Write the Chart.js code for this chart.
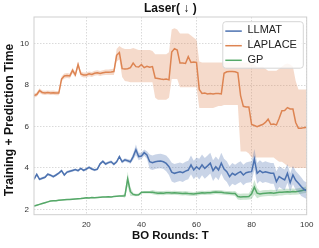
<!DOCTYPE html>
<html>
<head>
<meta charset="utf-8">
<script src="https://cdn.jsdelivr.net/npm/chart.js@4.4.1/dist/chart.umd.min.js"></script>
<style>
  html, body { margin: 0; padding: 0; background: #fff; }
</style>
</head>
<body>
<canvas id="myChart" width="319" height="248"></canvas>
<script>
const rounds = Array.from({length: 100}, (_, i) => i + 1);
const xTicks = [20, 40, 60, 80, 100];
const yTicks = [2, 4, 6, 8, 10];
const seriesNames = ['LLMAT', 'LAPLACE', 'GP'];

const llmatMean = [3.45,3.69,3.45,3.5,3.55,3.7,3.65,3.58,3.66,3.75,
  3.87,3.66,3.8,3.84,3.88,3.92,3.87,3.98,3.88,3.95,
  4.03,3.95,3.9,3.94,4.2,4.32,4.19,4.26,4.3,4.18,
  4.3,4.55,4.3,4.39,4.35,4.3,4.55,4.88,4.55,4.58,
  4.74,4.63,4.3,4.25,4.3,4.32,4.34,4.3,4.22,4.06,
  3.8,3.74,3.78,3.82,3.77,3.85,3.9,4.15,3.9,4.06,
  3.94,4.15,3.98,4.1,4.23,3.87,4.06,3.9,4.23,3.95,
  3.82,3.58,3.74,3.66,3.75,3.82,3.66,3.77,3.8,3.82,
  4.42,3.74,3.87,3.77,3.82,3.78,3.74,3.74,3.34,3.58,
  3.5,3.42,3.74,3.29,3.66,3.4,3.26,3.1,2.97,2.9];
const llmatStd = [0.06,0.06,0.06,0.06,0.06,0.06,0.06,0.06,0.06,0.06,
  0.06,0.06,0.06,0.06,0.06,0.06,0.06,0.06,0.06,0.06,
  0.06,0.06,0.06,0.06,0.07,0.07,0.07,0.07,0.07,0.07,
  0.07,0.08,0.08,0.08,0.08,0.1,0.15,0.25,0.18,0.15,
  0.15,0.18,0.35,0.35,0.35,0.35,0.35,0.35,0.38,0.4,
  0.45,0.45,0.45,0.45,0.45,0.45,0.45,0.45,0.45,0.45,
  0.5,0.5,0.5,0.5,0.5,0.5,0.5,0.5,0.5,0.5,
  0.5,0.5,0.5,0.5,0.5,0.5,0.5,0.5,0.5,0.5,
  0.5,0.5,0.5,0.5,0.5,0.5,0.5,0.5,0.5,0.5,
  0.5,0.5,0.45,0.45,0.45,0.45,0.45,0.45,0.4,0.4];

const laplaceMean = [7.5,7.55,7.74,7.65,7.63,7.65,7.63,7.64,7.62,7.62,
  8.3,8.45,8.47,8.45,8.72,8.5,9.0,8.55,8.5,8.5,
  8.55,8.52,8.58,8.6,8.57,8.6,8.63,8.63,8.64,8.66,
  9.45,9.58,8.8,8.78,8.8,8.85,9.07,8.9,8.88,9.0,
  8.85,8.92,8.87,8.9,8.35,8.33,8.3,8.28,8.3,8.26,
  9.6,9.77,9.7,9.07,9.07,9.05,9.38,9.1,9.12,9.1,
  7.8,7.6,7.62,7.58,7.6,7.58,7.6,7.6,7.58,8.58,
  8.65,8.67,8.66,8.65,8.6,7.5,6.98,6.95,6.95,6.1,
  6.05,6.0,6.05,6.1,6.2,6.36,6.1,6.12,6.08,6.4,
  6.77,6.78,6.92,6.85,6.85,6.2,5.92,5.92,5.95,5.97];
const laplaceLo = [7.4,7.45,7.62,7.55,7.53,7.55,7.53,7.54,7.52,7.52,
  8.18,8.33,8.35,8.33,8.58,8.38,8.85,8.43,8.38,8.38,
  8.43,8.4,8.46,8.48,8.45,8.48,8.5,8.5,8.5,8.5,
  9.15,9.25,8.4,8.2,8.18,8.15,8.15,8.15,8.15,8.15,
  8.15,8.15,8.15,8.15,7.4,7.3,7.3,7.3,7.3,7.4,
  8.3,8.3,8.3,7.9,7.9,7.9,7.9,7.9,7.9,7.9,
  6.9,6.9,6.9,6.9,6.9,6.9,6.95,7.0,7.0,7.05,
  7.05,7.05,7.05,7.05,7.05,4.8,4.8,4.8,4.7,4.5,
  4.5,4.5,4.5,4.5,4.5,4.5,4.5,4.5,4.4,4.3,
  4.3,4.2,4.1,4.05,4.0,4.0,4.0,4.0,4.0,4.0];
const laplaceHi = [7.6,7.65,7.86,7.75,7.73,7.75,7.73,7.74,7.72,7.72,
  8.42,8.57,8.59,8.57,8.86,8.62,9.15,8.67,8.62,8.62,
  8.67,8.64,8.7,8.72,8.69,8.72,8.76,8.76,8.78,8.8,
  9.75,9.9,9.8,9.75,9.75,9.75,9.8,9.75,9.7,9.7,
  9.7,9.7,9.7,9.65,9.5,9.5,9.5,9.5,9.5,9.6,
  10.7,10.75,10.7,10.5,10.5,10.5,10.5,10.4,10.3,10.2,
  9.15,9.1,9.1,9.1,9.1,9.1,9.1,9.1,9.1,9.1,
  9.1,9.1,9.1,9.1,9.1,9.1,9.1,9.1,9.1,9.1,
  9.0,8.9,8.9,8.9,8.8,8.7,8.7,8.7,8.7,8.8,
  8.9,9.0,9.05,9.0,8.9,8.2,7.8,7.8,7.8,7.8];

const gpMean = [2.16,2.2,2.24,2.28,2.32,2.36,2.4,2.41,2.42,2.44,
  2.45,2.46,2.47,2.48,2.49,2.5,2.51,2.52,2.54,2.56,
  2.55,2.57,2.56,2.57,2.58,2.59,2.6,2.61,2.6,2.62,
  2.63,2.64,2.65,2.66,3.47,2.85,2.72,2.69,2.7,2.82,
  2.83,2.83,2.82,2.83,2.8,2.78,2.79,2.78,2.8,2.8,
  2.79,2.8,2.79,2.78,2.77,2.78,2.76,2.75,2.74,2.76,
  2.78,2.8,2.79,2.8,2.8,2.82,2.84,2.83,2.82,2.8,
  2.79,2.78,2.77,2.77,2.62,2.6,2.61,2.61,2.62,2.75,
  3.07,2.78,2.74,2.77,2.78,2.79,2.8,2.78,2.8,2.82,
  2.82,2.84,2.85,2.84,2.86,2.85,2.87,2.9,2.93,2.95];
const gpStd = [0.03,0.03,0.03,0.03,0.03,0.03,0.03,0.03,0.03,0.03,
  0.03,0.03,0.03,0.03,0.03,0.03,0.03,0.03,0.03,0.03,
  0.03,0.03,0.03,0.03,0.03,0.03,0.03,0.03,0.03,0.03,
  0.03,0.03,0.04,0.1,0.35,0.2,0.08,0.06,0.06,0.06,
  0.06,0.06,0.06,0.1,0.1,0.1,0.1,0.1,0.1,0.1,
  0.1,0.1,0.1,0.1,0.1,0.1,0.1,0.1,0.1,0.1,
  0.1,0.1,0.1,0.1,0.1,0.1,0.1,0.1,0.1,0.1,
  0.1,0.1,0.1,0.12,0.15,0.15,0.15,0.15,0.15,0.25,
  0.35,0.25,0.15,0.15,0.15,0.15,0.15,0.15,0.15,0.15,
  0.15,0.15,0.15,0.15,0.15,0.15,0.15,0.15,0.15,0.15];

const colors = ['#4c72b0', '#dd8452', '#55a868'];
const bandColors = ['rgba(76,114,176,0.3)', 'rgba(221,132,82,0.3)', 'rgba(85,168,104,0.3)'];
const FONT = "'Liberation Sans', Arial, sans-serif";
const titleText = 'Laser( ↓ )';
const yTitle = 'Training + Prediction Time';

const pts = arr => rounds.map((t, i) => ({x: t, y: arr[i]}));

function bandSets(lo, hi, k) {
  return [
    {data: pts(hi), borderWidth: 0, pointRadius: 0, fill: '+1', backgroundColor: bandColors[k], band: true},
    {data: pts(lo), borderWidth: 0, pointRadius: 0, fill: false, band: true}
  ];
}
function lineSet(mean, k) {
  return {label: seriesNames[k], data: pts(mean), borderColor: colors[k], borderWidth: 1.5,
    pointRadius: 0, fill: false, tension: 0};
}

const datasets = [
  lineSet(llmatMean, 0),
  ...bandSets(llmatMean.map((m, i) => m - llmatStd[i]), llmatMean.map((m, i) => m + llmatStd[i]), 0),
  lineSet(laplaceMean, 1),
  ...bandSets(laplaceLo, laplaceHi, 1),
  lineSet(gpMean, 2),
  ...bandSets(gpMean.map((m, i) => m - gpStd[i]), gpMean.map((m, i) => m + gpStd[i]), 2)
];

const frame = {
  id: 'frame',
  afterDraw(chart) {
    const {ctx, chartArea: a} = chart;
    ctx.save();
    ctx.strokeStyle = '#cfcfcf';
    ctx.lineWidth = 1;
    ctx.strokeRect(a.left, a.top, a.right - a.left, a.bottom - a.top);

    // title over the plot area
    ctx.fillStyle = '#111';
    ctx.textAlign = 'center';
    ctx.textBaseline = 'middle';
    ctx.font = 'normal bold 12px ' + FONT;
    ctx.fillText(titleText, (a.left + a.right) / 2, 8.5);

    // y axis title
    ctx.save();
    ctx.translate(10, 120);
    ctx.rotate(-Math.PI / 2);
    ctx.font = 'normal bold 12.2px ' + FONT;
    ctx.fillText(yTitle, 0, 0);
    ctx.restore();

    // legend box, upper right
    const w = 80.5, h = 46.5;
    const x0 = a.right - 3.4 - w, y0 = a.top + 4.7;
    ctx.beginPath();
    ctx.roundRect(x0, y0, w, h, 3);
    ctx.fillStyle = 'rgba(255,255,255,0.8)';
    ctx.fill();
    ctx.strokeStyle = '#d6d6d6';
    ctx.lineWidth = 1;
    ctx.stroke();
    ctx.font = '11px ' + FONT;
    ctx.textAlign = 'left';
    ctx.textBaseline = 'middle';
    const lines = chart.data.datasets.filter(d => !d.band);
    lines.forEach((d, i) => {
      const y = y0 + 8.6 + i * 14.6;
      ctx.strokeStyle = d.borderColor;
      ctx.lineWidth = 1.5;
      ctx.beginPath();
      ctx.moveTo(x0 + 2.5, y + 0.8);
      ctx.lineTo(x0 + 19, y + 0.8);
      ctx.stroke();
      ctx.fillStyle = '#222';
      ctx.fillText(d.label, x0 + 24.6, y);
    });
    ctx.restore();
  }
};

new Chart(document.getElementById('myChart'), {
  type: 'line',
  data: {datasets},
  options: {
    responsive: false,
    animation: false,
    layout: {padding: {left: 0, right: 12.3, top: 17, bottom: 0}},
    plugins: {
      legend: {display: false},
      tooltip: {enabled: false},
      title: {display: false}
    },
    scales: {
      x: {
        type: 'linear',
        min: 1,
        max: 100,
        afterBuildTicks: s => { s.ticks = xTicks.map(v => ({value: v})); },
        afterFit: s => { s.height = 33.3; },
        grid: {color: '#dadada', lineWidth: 1, drawTicks: false},
        border: {display: false, dash: [1.5, 1.5]},
        ticks: {font: {family: FONT, size: 8}, color: '#333', padding: 5, maxRotation: 0},
        title: {display: true, text: 'BO Rounds: T', color: '#111',
          font: {family: FONT, size: 11.4, weight: 'bold'}, padding: {top: 0, bottom: 5.6}}
      },
      y: {
        min: 1.74,
        max: 11.3,
        afterBuildTicks: s => { s.ticks = yTicks.map(v => ({value: v})); },
        afterFit: s => { s.width = 34; },
        grid: {color: '#dadada', lineWidth: 1, drawTicks: false},
        border: {display: false, dash: [1.5, 1.5]},
        ticks: {font: {family: FONT, size: 8}, color: '#333', padding: 5},
        title: {display: false}
      }
    }
  },
  plugins: [frame]
});
</script>
</body>
</html>
